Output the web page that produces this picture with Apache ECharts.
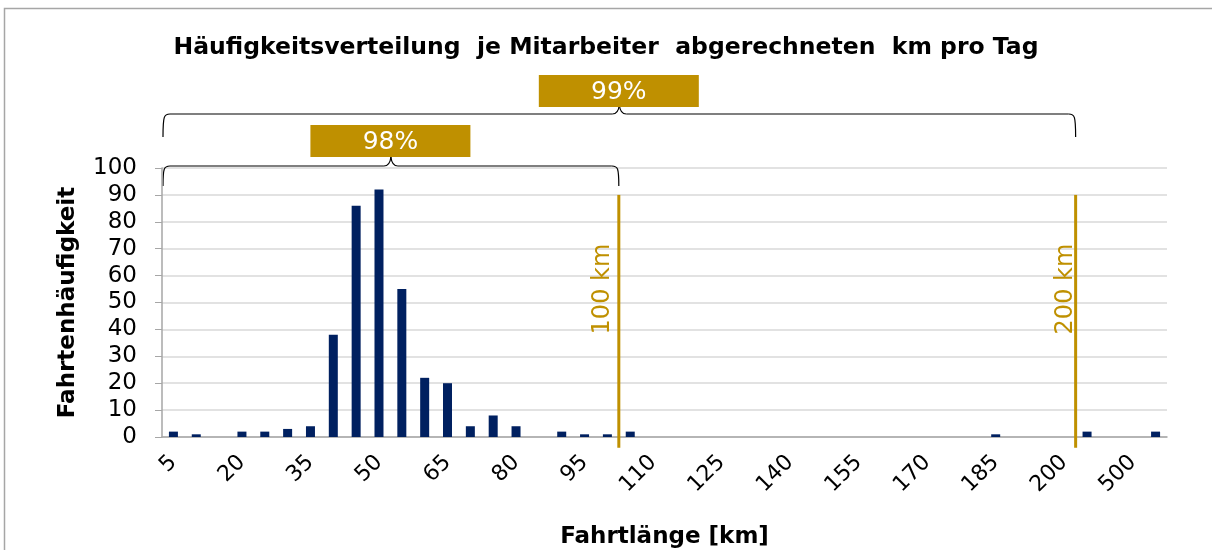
<!DOCTYPE html>
<html>
<head>
<meta charset="utf-8">
<title>Häufigkeitsverteilung</title>
<script src="https://cdn.jsdelivr.net/npm/echarts@6/dist/echarts.min.js"></script>
<style>
html, body { margin: 0; padding: 0; background: #fff; }
#chart { width: 1212px; height: 550px; }
</style>
</head>
<body>
<div id="chart"></div>
<script>
// Fahrtlänge-Klassen (km)
const categories = [
  '5', '10', '15', '20', '25', '30', '35', '40', '45', '50',
  '55', '60', '65', '70', '75', '80', '85', '90', '95', '100',
  '105', '110', '115', '120', '125', '130', '135', '140', '145', '150',
  '155', '160', '165', '170', '175', '180', '185', '190', '195', '200',
  '300', '400', '500', '>500'
];
// Fahrtenhäufigkeit je Klasse
const counts = [
  2, 1, 0, 2, 2, 3, 4, 38, 86, 92,
  55, 22, 20, 4, 8, 4, 0, 2, 1, 1,
  2, 0, 0, 0, 0, 0, 0, 0, 0, 0,
  0, 0, 0, 0, 0, 0, 1, 0, 0, 0,
  2, 0, 0, 2
];
const yTicks = [0, 100, 10]; // min, max, interval
// Grenzen (km) und Anteil der Fahrten bis zur Grenze
const limitKm = [100, 200];
const limitShare = ['98%', '99%'];

const gold = '#BF9000';
const navy = '#002060';
const font = '"DejaVu Sans", Arial, sans-serif';

let chart = echarts.init(document.getElementById('chart'));

// Grenze liegt zwischen der Klasse "km" und der nächsten
let bounds = limitKm.map(function (km) {
  return categories.indexOf(String(km)) + 1;
});

let limitSeries = bounds.map(function (b) {
  return {
    type: 'line',
    xAxisIndex: 1,
    yAxisIndex: 0,
    data: [[b, 90], [b, -4]],
    symbol: 'none',
    clip: false,
    silent: true,
    z: 5,
    lineStyle: { color: gold, width: 3 }
  };
});

let option = {
  animation: false,
  title: {
    text: 'Häufigkeitsverteilung  je Mitarbeiter  abgerechneten  km pro Tag',
    left: 'center',
    top: 31,
    textStyle: { fontFamily: font, fontSize: 23.5, fontWeight: 'bold', color: '#000' }
  },
  grid: { left: 162, right: 45, top: 168, bottom: 109 },
  xAxis: [
    {
      type: 'category',
      data: categories,
      name: 'Fahrtlänge [km]',
      nameLocation: 'middle',
      nameGap: 89,
      nameTextStyle: { fontFamily: font, fontSize: 23, fontWeight: 'bold', color: '#000' },
      axisLine: { lineStyle: { color: '#a6a6a6', width: 1.5 } },
      axisTick: { length: 8, lineStyle: { color: '#a6a6a6' } },
      axisLabel: {
        interval: 2,
        rotate: 45,
        margin: 22,
        fontFamily: font,
        fontSize: 22,
        color: '#000'
      }
    },
    {
      type: 'value',
      min: 0,
      max: categories.length,
      show: false
    }
  ],
  yAxis: {
    type: 'value',
    min: yTicks[0],
    max: yTicks[1],
    interval: yTicks[2],
    name: 'Fahrtenhäufigkeit',
    nameLocation: 'middle',
    nameGap: 82,
    nameTextStyle: { fontFamily: font, fontSize: 23, fontWeight: 'bold', color: '#000' },
    axisLine: { show: true, lineStyle: { color: '#a6a6a6', width: 1.5 } },
    axisTick: { show: true, length: 7, lineStyle: { color: '#a6a6a6' } },
    axisLabel: { margin: 25, fontFamily: font, fontSize: 23, color: '#000' },
    splitLine: { lineStyle: { color: '#d9d9d9', width: 1.5 } }
  },
  series: [
    {
      type: 'bar',
      data: counts,
      barWidth: 9,
      itemStyle: { color: navy }
    }
  ].concat(limitSeries)
};

chart.setOption(option);

// Anmerkungen: Grenz-Beschriftung, geschweifte Klammern, Anteil-Kästen
function px(v, yv) {
  return chart.convertToPixel({ xAxisIndex: 1, yAxisIndex: 0 }, [v, yv]);
}

function brace(x0, x1, yh, yb) {
  let xc = (x0 + x1) / 2;
  let st = { stroke: '#000', lineWidth: 1.2, fill: null };
  let r = 7;
  return [
    { type: 'bezierCurve', shape: { x1: x0, y1: yb, cpx1: x0, cpy1: yh + 2, cpx2: x0 + 1, cpy2: yh, x2: x0 + r, y2: yh }, style: st },
    { type: 'line', shape: { x1: x0 + r, y1: yh, x2: xc - r, y2: yh }, style: st },
    { type: 'bezierCurve', shape: { x1: xc - r, y1: yh, cpx1: xc - 1, cpy1: yh, x2: xc, y2: yh - 9 }, style: st },
    { type: 'bezierCurve', shape: { x1: xc, y1: yh - 9, cpx1: xc + 1, cpy1: yh, x2: xc + r, y2: yh }, style: st },
    { type: 'line', shape: { x1: xc + r, y1: yh, x2: x1 - r, y2: yh }, style: st },
    { type: 'bezierCurve', shape: { x1: x1 - r, y1: yh, cpx1: x1 - 1, cpy1: yh, cpx2: x1, cpy2: yh + 2, x2: x1, y2: yb }, style: st }
  ];
}

function shareBox(xc, yTop, text) {
  return [
    { type: 'rect', shape: { x: xc - 80, y: yTop, width: 160, height: 32 }, style: { fill: gold } },
    {
      type: 'text', x: xc, y: yTop + 17,
      style: { text: text, fill: '#fff', font: '25px ' + font, align: 'center', verticalAlign: 'middle', textAlign: 'center', textVerticalAlign: 'middle' }
    }
  ];
}

let elements = [
  { type: 'rect', shape: { x: 4.5, y: 8.5, width: 1400, height: 700 }, style: { fill: null, stroke: '#a6a6a6', lineWidth: 1.5 }, silent: true }
];

let braceY = [[166, 186, 125], [114, 137, 75]];
let labelDx = [-16, -10];
bounds.forEach(function (b, i) {
  let p0 = px(0, 0);
  let p1 = px(b, 55);
  elements.push({
    type: 'text', x: p1[0] + labelDx[i], y: p1[1], rotation: Math.PI / 2,
    style: { text: limitKm[i] + ' km', fill: gold, font: '24px ' + font, align: 'center', verticalAlign: 'middle', textAlign: 'center', textVerticalAlign: 'middle' },
    z: 10
  });
  elements = elements.concat(brace(p0[0] + 1, p1[0], braceY[i][0], braceY[i][1]));
  elements = elements.concat(shareBox((p0[0] + p1[0]) / 2, braceY[i][2], limitShare[i]));
});

chart.setOption({ graphic: { elements: elements } });

window.addEventListener('resize', function () {
  chart.resize();
});
</script>
</body>
</html>
